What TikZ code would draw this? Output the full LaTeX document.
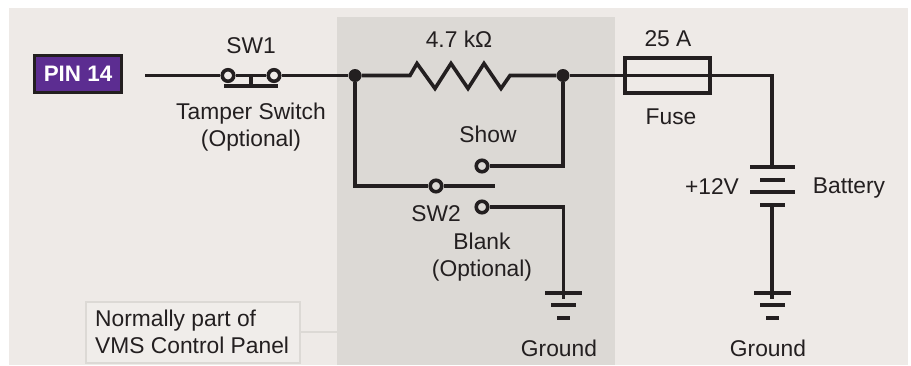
\documentclass[tikz,border=0pt]{standalone}
\usepackage{fontspec}
\setmainfont{Liberation Sans}
\definecolor{wirecol}{HTML}{231F20}
\definecolor{pagecol}{HTML}{EEEAE7}
\definecolor{panelcol}{HTML}{DCD9D5}
\definecolor{notecol}{HTML}{F0EDEA}
\definecolor{pincol}{HTML}{5C2D91}
\tikzset{
  wire/.style={draw=wirecol,line width=3.6pt},
  contact/.style={circle,draw=wirecol,line width=3.6pt,inner sep=0pt,minimum size=11.5pt},
  joint/.style={circle,fill=wirecol,inner sep=0pt,minimum size=13pt},
  plate/.style={rectangle,fill=wirecol,inner sep=0pt,minimum height=4pt},
  lbl/.style={text=wirecol,inner sep=0pt,align=center,font=\fontsize{22.8}{27}\selectfont},
}
\begin{document}
\begin{tikzpicture}[x=1pt,y=-1pt]
  \useasboundingbox (0,0) rectangle (911,365);
  \fill[pagecol] (9,8) rectangle (908,365);
  \fill[panelcol] (337,17) rectangle (615,365);

  \node(pin) at (78,74) [draw=wirecol,line width=3.8pt,fill=pincol,minimum width=87pt,minimum height=37pt,inner sep=0pt,text=white,font=\fontsize{22.4}{27}\selectfont\bfseries]{PIN 14};
  \coordinate(start) at (145,75.5);
  \node(swa) at (228,75.5) [contact]{};
  \node(swb) at (274,75.5) [contact]{};
  \node(swbar) at (251,86) [plate,minimum width=54pt]{};
  \coordinate(swtop) at (251,75.5);
  \node(j1) at (355,75.5) [joint]{};
  \node(j2) at (563,75.5) [joint]{};
  \coordinate(resl) at (410,75.5);
  \coordinate(resr) at (510,75.5);
  \node(fuse) at (667.5,75.5) [draw=wirecol,line width=3.6pt,minimum width=85pt,minimum height=35pt,inner sep=0pt]{};
  \node(show) at (482,166) [contact]{};
  \node(blank) at (482,207) [contact]{};
  \node(sw) at (436,186) [contact]{};
  \coordinate(swend) at (495,186);

  \node(bata) at (772,167) [plate,minimum width=45pt]{};
  \node(batb) at (772,180) [plate,minimum width=25pt]{};
  \node(batc) at (772,192) [plate,minimum width=45pt]{};
  \node(batd) at (772,205) [plate,minimum width=25pt]{};

  \node(gla) at (563.5,293) [plate,minimum width=37pt]{};
  \node(glb) at (563.5,305) [plate,minimum width=25pt]{};
  \node(glc) at (563.5,318) [plate,minimum width=13pt]{};
  \coordinate(glend) at (563.5,299);
  \node(gra) at (772,293) [plate,minimum width=37pt]{};
  \node(grb) at (772,305) [plate,minimum width=25pt]{};
  \node(grc) at (772,318) [plate,minimum width=13pt]{};
  \coordinate(grend) at (772,299);

  \draw[wire] (start) -- (swa);
  \draw[wire] (swa) -- (swb);
  \draw[wire] (swtop) -- (swbar);
  \draw[wire] (swb) -- (j1);
  \draw[wire] (j1) -- (resl) -- ++(7,-12) -- ++(18,25) -- ++(16,-25) -- ++(17,25) -- ++(16,-25) -- ++(17,25) -- (resr) -- (j2);
  \draw[wire] (j2) -| (bata);
  \draw[wire] (j1) |- (sw);
  \draw[wire] (sw) -- (swend);
  \draw[wire] (show) -| (j2);
  \draw[wire] (blank) -| (glend);
  \draw[wire] (batd) -- (grend);

  \node(note) at (193,332.5) [draw=panelcol,line width=2.5pt,fill=notecol,minimum width=214pt,minimum height=61pt,inner sep=0pt]{};
  \coordinate(notend) at (337,332);
  \draw[panelcol,line width=2.5pt] (note.east |- notend) -- (notend);

  \node(swl) at (251,46) [lbl]{SW1};
  \node(swt) at (251,127) [lbl]{Tamper Switch\\(Optional)};
  \node(resv) at (459,39) [lbl]{4.7 kΩ};
  \node(showl) at (488,134) [lbl]{Show};
  \node(swbl) at (436,214) [lbl]{SW2};
  \node(blankl) at (482,257) [lbl]{Blank\\(Optional)};
  \node(fusev) at (668,39) [lbl]{25 A};
  \node(fusel) at (671,117) [lbl]{Fuse};
  \node(volt) at (712,187) [lbl]{+12V};
  \node(batl) at (849,188) [lbl]{Battery};
  \node(gndl) at (559,348) [lbl]{Ground};
  \node(gndr) at (768,348) [lbl]{Ground};
  \node(notet) at (95,332) [lbl,anchor=west,align=left]{Normally part of\\VMS Control Panel};
\end{tikzpicture}
\end{document}
